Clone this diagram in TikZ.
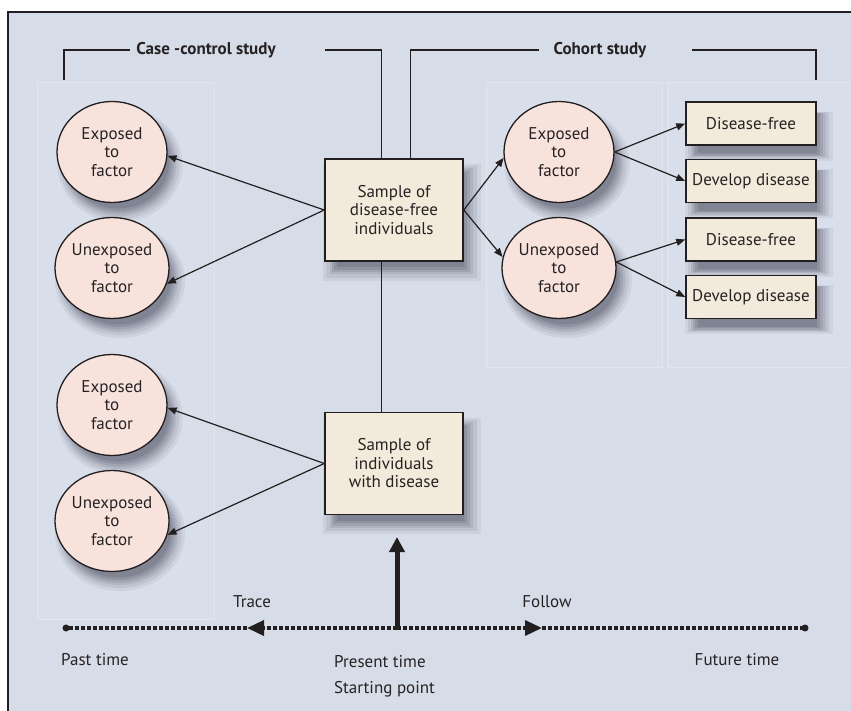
\documentclass[tikz,border=0pt]{standalone}
\usepackage{fontspec}
\setmainfont{PT Sans}
\usetikzlibrary{arrows.meta,shapes.geometric,shadows}
\definecolor{bgc}{RGB}{215,221,232}
\definecolor{panelc}{RGB}{217,223,234}
\definecolor{paneledge}{RGB}{226,230,239}
\definecolor{circc}{RGB}{248,226,220}
\definecolor{boxc}{RGB}{242,234,218}
\definecolor{ink}{RGB}{35,31,32}
\definecolor{txt}{RGB}{38,34,35}
\definecolor{shc}{RGB}{70,72,90}
\begin{document}
\begin{tikzpicture}[x=1pt,y=-1pt,
  every node/.style={text=txt,font=\fontsize{17}{18.5}\selectfont},
  shade/.style={
    general shadow={shadow xshift=7pt,shadow yshift=-11pt,shadow scale=1.14,fill=shc,opacity=.08},
    general shadow={shadow xshift=7pt,shadow yshift=-11pt,shadow scale=1.09,fill=shc,opacity=.10},
    general shadow={shadow xshift=7pt,shadow yshift=-11pt,shadow scale=1.04,fill=shc,opacity=.12},
    general shadow={shadow xshift=7pt,shadow yshift=-11pt,shadow scale=1.00,fill=shc,opacity=.15},
    general shadow={shadow xshift=7pt,shadow yshift=-11pt,shadow scale=0.96,fill=shc,opacity=.17},
    general shadow={shadow xshift=7pt,shadow yshift=-11pt,shadow scale=0.92,fill=shc,opacity=.20}},
  circ/.style={ellipse,draw=ink,line width=1.3pt,fill=circc,minimum width=110pt,minimum height=101pt,inner sep=0pt,align=center,shade},
  bigbox/.style={rectangle,draw=ink,line width=1.5pt,fill=boxc,minimum width=138pt,minimum height=102pt,inner sep=0pt,align=center,shade},
  rbox/.style={rectangle,draw=ink,line width=1.5pt,fill=boxc,minimum width=130pt,minimum height=43pt,inner sep=0pt,shade},
  conn/.style={draw=ink,line width=1.2pt},
  arr/.style={conn,-{Triangle[length=9pt,width=7pt]}},
  tl/.style={draw=ink,line width=3.5pt,dash pattern=on 4pt off 2pt,line cap=butt},
  tltip/.style={-{Triangle[length=17pt,width=15pt]}},
  label/.style={font=\bfseries\fontsize{17}{18}\selectfont,inner sep=0pt}
]
\useasboundingbox (0,0) rectangle (851,711);
% background and frame
\fill[bgc] (8,12) rectangle (851,711);
\draw[ink,line width=1.3pt] (8,711) -- (8,12) -- (851,12);
% faint panels
\draw[paneledge,fill=panelc,line width=0.6pt] (37,82) rectangle (214,619);
\draw[paneledge,fill=panelc,line width=0.6pt] (486,82) rectangle (662,367);
\draw[paneledge,fill=panelc,line width=0.6pt] (667,82) rectangle (851,367);

% central boxes
\node[bigbox] (s1) at (394,210) {Sample of\\disease-free\\individuals};
\node[bigbox] (s2) at (394,463.5) {Sample of\\individuals\\with disease};

% left circles
\node[circ] (ce1) at (112,152) {Exposed\\to\\factor};
\node[circ] (cu1) at (112,268) {Unexposed\\to\\factor};
\node[circ] (ce2) at (112,405) {Exposed\\to\\factor};
\node[circ] (cu2) at (112,521) {Unexposed\\to\\factor};

% right circles
\node[circ] (re) at (559,152) {Exposed\\to\\factor};
\node[circ] (ru) at (559,268) {Unexposed\\to\\factor};

% outcome boxes
\node[rbox] (df1) at (751,123.5) {Disease-free};
\node[rbox] (dd1) at (751,181) {Develop disease};
\node[rbox] (df2) at (751,239.5) {Disease-free};
\node[rbox] (dd2) at (751,297) {Develop disease};

% headings and brackets
\node[label] (cclab) at (206,50) {Case -control study};
\node[label] (colab) at (600,50) {Cohort study};
\coordinate (cc0) at (64,80);
\coordinate (cc2) at (325,50);
\coordinate (co2) at (692,50);
\coordinate (co3) at (816,80);
\coordinate (s1a) at ([xshift=57pt]s1.north west);
\coordinate (s1b) at ([xshift=86pt]s1.north west);
\coordinate (s1c) at ([xshift=57pt]s1.south west);
\coordinate (s2a) at ([xshift=57pt]s2.north west);
\draw[conn] (cc0) |- ([xshift=-6pt]cclab.west);
\draw[conn] (cc2) -| (s1a);
\draw[conn] (s1b) |- ([xshift=-14pt]colab.west);
\draw[conn] (co2) -| (co3);
\draw[conn] (s1c) -- (s2a);

% case-control arrows
\draw[arr] (s1.west) -- (ce1.-4);
\draw[arr] (s1.west) -- (cu1.-16);
\draw[arr] (s2.west) -- (ce2.-3);
\draw[arr] (s2.west) -- (cu2.-14);

% cohort arrows
\draw[arr] (s1.east) -- (re.186);
\draw[arr] (s1.east) -- (ru.169);
\draw[arr] (re.east) -- (df1.west);
\draw[arr] (re.east) -- (dd1.west);
\draw[arr] (ru.6) -- (df2.west);
\draw[arr] (ru.6) -- (dd2.west);

% timeline
\coordinate (past) at (66,628);
\coordinate (ltip) at (247,628);
\coordinate (present) at (397,628);
\coordinate (rtip) at (542,628);
\coordinate (future) at (805,628);
\coordinate (uptip) at (397,537);
\draw[tl] (ltip) -- (past);
\draw[tl,tltip] (present) -- (ltip);
\draw[tl,tltip] (present) -- (rtip);
\draw[tl] (rtip) -- (future);
\fill[ink] (past) circle (3.5pt);
\fill[ink] (future) circle (3.5pt);
\draw[ink,line width=5pt,-{Triangle[length=15pt,width=15pt]}] (present) -- (uptip);

\node (trace) at (252,602) {Trace};
\node (follow) at (547,602) {Follow};
\node (pastlab) at (95,660) {Past time};
\node[anchor=west,inner sep=0pt] (preslab) at (334,662) {Present time};
\node[anchor=west,inner sep=0pt] (startlab) at (334,689) {Starting point};
\node (futlab) at (737,660) {Future time};
\end{tikzpicture}
\end{document}
